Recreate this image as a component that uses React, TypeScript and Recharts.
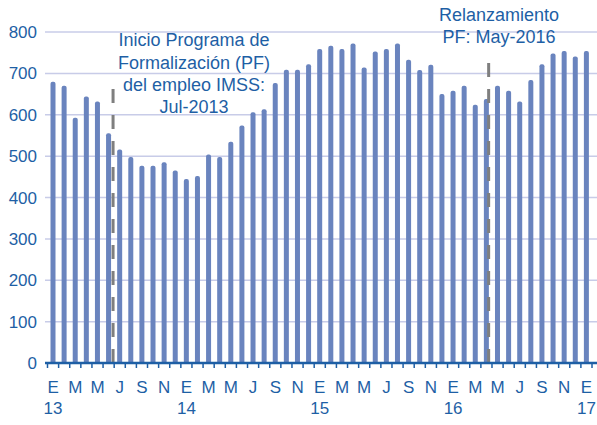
import { BarChart, Bar, XAxis, YAxis, CartesianGrid, ReferenceLine, Customized } from 'recharts'

const months = [
  'Ene-13', 'Feb-13', 'Mar-13', 'Abr-13', 'May-13', 'Jun-13', 'Jul-13', 'Ago-13', 'Sep-13', 'Oct-13', 'Nov-13', 'Dic-13',
  'Ene-14', 'Feb-14', 'Mar-14', 'Abr-14', 'May-14', 'Jun-14', 'Jul-14', 'Ago-14', 'Sep-14', 'Oct-14', 'Nov-14', 'Dic-14',
  'Ene-15', 'Feb-15', 'Mar-15', 'Abr-15', 'May-15', 'Jun-15', 'Jul-15', 'Ago-15', 'Sep-15', 'Oct-15', 'Nov-15', 'Dic-15',
  'Ene-16', 'Feb-16', 'Mar-16', 'Abr-16', 'May-16', 'Jun-16', 'Jul-16', 'Ago-16', 'Sep-16', 'Oct-16', 'Nov-16', 'Dic-16',
  'Ene-17',
]

const values = [
  680, 670, 593, 644, 632, 555, 516, 498, 477, 477, 485, 465,
  445, 452, 504, 498, 535, 574, 606, 613, 677, 709, 709, 722,
  759, 767, 759, 772, 714, 753, 759, 772, 733, 708, 721, 650,
  658, 670, 624, 638, 670, 658, 632, 684, 722, 748, 754, 741,
  754,
]

const monthLetters = ['E', 'F', 'M', 'A', 'M', 'J', 'J', 'A', 'S', 'O', 'N', 'D']
const yearLabels = ['13', '14', '15', '16', '17']
const yTicks = [0, 100, 200, 300, 400, 500, 600, 700, 800]

// event markers: position on the month index scale, and dash top value
const markers = [
  { pos: 5.9, top: 674 },
  { pos: 39.7, top: 744 },
]

const data = months.map((m, i) => ({ month: m, idx: i, value: values[i] }))

const BLUE = '#1E5FA5'
const W = 597
const H = 425
const Y_AXIS_W = 45
const PAD_L = 2.5
const PAD_R = 5
const band = (W - Y_AXIS_W - PAD_L - PAD_R) / data.length

function MonthTick(props: any) {
  const { x, y, index } = props
  const showLabel = index % 2 === 0
  const letter = monthLetters[index % 12]
  const year = index % 12 === 0 ? yearLabels[index / 12] : null
  return (
    <g>
      <line x1={x - band / 2} x2={x - band / 2} y1={y} y2={y + 5} stroke={BLUE} strokeWidth={1.5} />
      {index === data.length - 1 && (
        <line x1={x + band / 2} x2={x + band / 2} y1={y} y2={y + 5} stroke={BLUE} strokeWidth={1.5} />
      )}
      {showLabel && (
        <text x={x} y={y + 30} textAnchor="middle" fill={BLUE} fontSize={17}>
          {letter}
        </text>
      )}
      {year && (
        <text x={x} y={y + 51} textAnchor="middle" fill={BLUE} fontSize={17}>
          {year}
        </text>
      )}
    </g>
  )
}

function Notes() {
  const style = { fill: BLUE, fontSize: 18, textAnchor: 'middle' as const }
  return (
    <g>
      <text x={194} y={46} {...style}>Inicio Programa de</text>
      <text x={194} y={68.5} {...style}>Formalización (PF)</text>
      <text x={194} y={91} {...style}>del empleo IMSS:</text>
      <text x={194} y={113} {...style}>Jul-2013</text>
      <text x={499} y={21} {...style}>Relanzamiento</text>
      <text x={499} y={43} {...style}>PF: May-2016</text>
    </g>
  )
}

export default function App() {
  return (
    <div style={{ position: 'absolute', left: 0, top: 0, width: W, height: H, background: '#fff', fontFamily: 'Arial, "Liberation Sans", sans-serif' }}>
      <BarChart
        width={W}
        height={H}
        data={data}
        margin={{ top: 32, right: 0, left: 0, bottom: 0 }}
        barCategoryGap="27%"
      >
        <CartesianGrid horizontal vertical={false} stroke="#C8CCE8" strokeWidth={1.5} />
        <XAxis
          dataKey="month"
          interval={0}
          height={62}
          padding={{ left: PAD_L, right: PAD_R }}
          tickLine={false}
          tickSize={0}
          tickMargin={0}
          axisLine={{ stroke: BLUE, strokeWidth: 2.5 }}
          tick={<MonthTick />}
        />
        <XAxis xAxisId="n" type="number" dataKey="idx" domain={[0, data.length]} padding={{ left: PAD_L, right: PAD_R }} hide />
        <YAxis
          width={Y_AXIS_W}
          domain={[0, 800]}
          ticks={yTicks}
          axisLine={false}
          tickLine={false}
          tick={{ fill: BLUE, fontSize: 17 }}
        />
        <Bar dataKey="value" fill="#6A84BE" radius={[2, 2, 0, 0]} isAnimationActive={false} />
        {markers.map((m) => (
          <ReferenceLine
            key={m.pos}
            xAxisId="n"
            segment={[{ x: m.pos, y: 0 }, { x: m.pos, y: m.top }]}
            stroke="#7F7F7F"
            strokeWidth={3}
            strokeDasharray="14 12"
            ifOverflow="visible"
          />
        ))}
        <Customized component={Notes} />
      </BarChart>
    </div>
  )
}
